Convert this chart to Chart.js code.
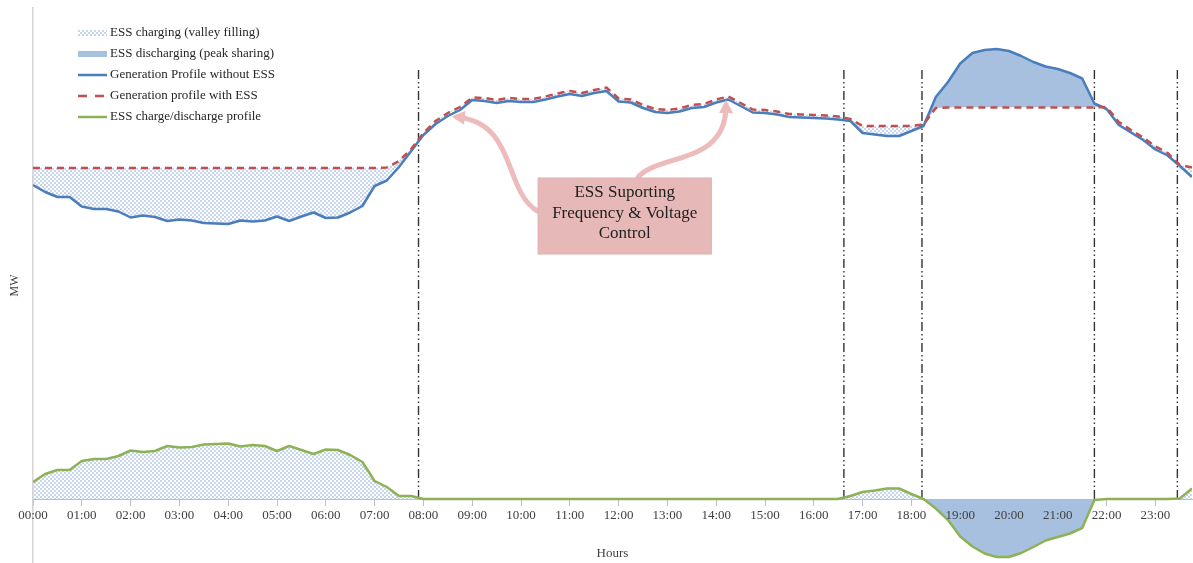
<!DOCTYPE html>
<html>
<head>
<meta charset="utf-8">
<title>ESS generation profile</title>
<script src="https://cdn.jsdelivr.net/npm/chart.js@4.4.0/dist/chart.umd.min.js"></script>
<style>
  html, body { margin: 0; padding: 0; background: #fff; }
  #wrap { width: 1193px; height: 563px; position: relative; }
</style>
</head>
<body>
<div id="wrap"><canvas id="chart"></canvas></div>
<script>
// one point every 15 minutes, 00:00 .. 23:45
const stepMinutes = 15;

const hourLabels = ['00:00', '01:00', '02:00', '03:00', '04:00', '05:00', '06:00', '07:00',
    '08:00', '09:00', '10:00', '11:00', '12:00', '13:00', '14:00', '15:00',
    '16:00', '17:00', '18:00', '19:00', '20:00', '21:00', '22:00', '23:00'];

const withoutEss = [
    314, 307, 302, 302, 292.5, 290, 290, 287.5, 281.5, 283.5, 282, 278,
    279.5, 278.5, 276, 275.5, 275, 278.5, 277.5, 278.5, 282.5, 278, 282.5, 286.5,
    281, 281.5, 286.5, 293, 313, 318.5, 332, 348, 364, 375, 383, 389,
    399, 398, 396, 398, 397, 397, 399.5, 402.5, 405, 403, 406, 408,
    397.5, 396.5, 391, 387, 386, 387.5, 391, 392, 396.5, 399.5, 393, 386.5,
    386, 384.5, 382, 381.5, 381, 380.5, 379.5, 378, 366, 364.5, 363, 363,
    368, 373, 402, 417, 435.5, 446, 449, 450, 448, 443, 437, 432.5,
    430, 426, 420.5, 395.5, 390, 374, 366.5, 359, 349.5, 343.5, 333, 322
];

const withEss = [
    331, 331, 331, 331, 331, 331, 331, 331, 331, 331, 331, 331,
    331, 331, 331, 331, 331, 331, 331, 331, 331, 331, 331, 331,
    331, 331, 331, 331, 331, 331.5, 338, 350, 366, 378, 386, 392,
    401.5, 401, 399, 401, 400, 400, 402.5, 405.5, 408, 406, 409, 411.5,
    400.5, 399.5, 394, 390, 389, 390.5, 394, 395, 399.5, 402.5, 396, 389.5,
    389, 387.5, 385, 384.5, 384, 383.5, 382.5, 380, 373, 373, 373, 373,
    373, 374.5, 391, 391.5, 391.5, 391.5, 391.5, 391.5, 391.5, 391.5, 391.5, 391.5,
    391.5, 391.5, 391.5, 391.5, 392, 377, 369, 361.5, 352.5, 346, 334, 331.5
];

const essProfile = [
    17, 25, 29, 29, 38, 40, 40, 43, 48.5, 47, 48, 53,
    51.5, 52, 54.5, 55, 55.5, 52.5, 54, 53, 48, 53, 49, 45,
    49.5, 49, 44, 37, 18, 12, 3, 3, 0, 0, 0, 0,
    0, 0, 0, 0, 0, 0, 0, 0, 0, 0, 0, 0,
    0, 0, 0, 0, 0, 0, 0, 0, 0, 0, 0, 0,
    0, 0, 0, 0, 0, 0, 0, 3, 7, 8.5, 10.5, 10.5,
    5, 0, -9.5, -21, -37.5, -47.5, -54.5, -58, -58, -54, -48, -41.5,
    -38, -34.5, -29, -1, 0, 0, 0, 0, 0, 0, 0.5, 10.5
];

// dash-dot separators, minutes after midnight
const eventMinutes = [474, 997, 1093, 1305, 1407];
const eventTop = 429;

// annotation, in minutes / MW
const noteBox = { from: 621, to: 834, top: 321, bottom: 245 };
const noteLines = ['ESS Suporting', 'Frequency & Voltage', 'Control'];
const noteLineValues = [306, 285, 265];
const noteArrows = [
    [[620, 288], [578, 309], [595, 376], [521, 382]],
    [[744, 322], [771, 346], [853, 334], [852, 394]]
];

const legendItems = [
    { text: 'ESS charging (valley filling)', kind: 'dots' },
    { text: 'ESS discharging (peak sharing)', kind: 'solid' },
    { text: 'Generation Profile without ESS', kind: 'line', color: '#4a7dbb' },
    { text: 'Generation profile with ESS', kind: 'dash', color: '#c0504d' },
    { text: 'ESS charge/discharge profile', kind: 'line', color: '#8db255' }
];

const serif = '"Liberation Serif", "Times New Roman", serif';

function makeDots() {
    const c = document.createElement('canvas');
    c.width = 4;
    c.height = 4;
    const g = c.getContext('2d');
    g.fillStyle = '#c6d6ee';
    g.fillRect(0, 0, 2, 2);
    g.fillRect(2, 2, 2, 2);
    return g.createPattern(c, 'repeat');
}

const chargeFill = makeDots();
const dischargeFill = '#a8c0df';

function toPoints(values) {
    return values.map((v, i) => ({ x: i * stepMinutes, y: v }));
}

const eventLines = {
    id: 'eventLines',
    beforeDatasetsDraw(chart) {
        const { ctx, scales } = chart;
        ctx.save();
        ctx.strokeStyle = '#333333';
        ctx.lineWidth = 1.4;
        ctx.setLineDash([9, 3, 1.5, 3, 1.5, 3]);
        eventMinutes.forEach(m => {
            const x = scales.x.getPixelForValue(m);
            ctx.beginPath();
            ctx.moveTo(x, scales.y.getPixelForValue(eventTop));
            ctx.lineTo(x, scales.y.getPixelForValue(0));
            ctx.stroke();
        });
        ctx.restore();
    }
};

const overlay = {
    id: 'overlay',
    afterDraw(chart) {
        const { ctx, scales, chartArea } = chart;
        const px = m => scales.x.getPixelForValue(m);
        const py = v => scales.y.getPixelForValue(v);
        ctx.save();

        // arrows behind the note
        ctx.strokeStyle = '#ecbcbc';
        ctx.fillStyle = '#ecbcbc';
        ctx.lineWidth = 5;
        ctx.lineCap = 'round';
        noteArrows.forEach(a => {
            const p = a.map(pt => [px(pt[0]), py(pt[1])]);
            ctx.beginPath();
            ctx.moveTo(p[0][0], p[0][1]);
            ctx.bezierCurveTo(p[1][0], p[1][1], p[2][0], p[2][1], p[3][0], p[3][1]);
            ctx.stroke();
            const ang = Math.atan2(p[3][1] - p[2][1], p[3][0] - p[2][0]);
            const tipX = p[3][0] + Math.cos(ang) * 5;
            const tipY = p[3][1] + Math.sin(ang) * 5;
            ctx.beginPath();
            ctx.moveTo(tipX, tipY);
            ctx.lineTo(tipX - Math.cos(ang) * 13 + Math.sin(ang) * 7, tipY - Math.sin(ang) * 13 - Math.cos(ang) * 7);
            ctx.lineTo(tipX - Math.cos(ang) * 13 - Math.sin(ang) * 7, tipY - Math.sin(ang) * 13 + Math.cos(ang) * 7);
            ctx.closePath();
            ctx.fill();
        });

        // note box
        const bx = px(noteBox.from), by = py(noteBox.top);
        ctx.fillStyle = '#e6b9b8';
        ctx.fillRect(bx, by, px(noteBox.to) - bx, py(noteBox.bottom) - by);
        ctx.strokeStyle = '#ddb0af';
        ctx.lineWidth = 1;
        ctx.strokeRect(bx, by, px(noteBox.to) - bx, py(noteBox.bottom) - by);
        ctx.fillStyle = '#1e1e1e';
        ctx.font = '17px ' + serif;
        ctx.textAlign = 'center';
        ctx.textBaseline = 'middle';
        const cx = (px(noteBox.from) + px(noteBox.to)) / 2;
        noteLines.forEach((t, i) => ctx.fillText(t, cx, py(noteLineValues[i])));

        // legend
        const x0 = chartArea.left + 45;
        const tx = chartArea.left + 77;
        ctx.font = '13px ' + serif;
        ctx.textAlign = 'left';
        legendItems.forEach((item, i) => {
            const y = chartArea.top + 25 + i * 21;
            if (item.kind === 'dots' || item.kind === 'solid') {
                ctx.fillStyle = item.kind === 'dots' ? chargeFill : dischargeFill;
                ctx.fillRect(x0, y - 3, 29, 6);
            } else {
                ctx.strokeStyle = item.color;
                ctx.lineWidth = 2.5;
                ctx.lineCap = 'butt';
                ctx.setLineDash(item.kind === 'dash' ? [9, 8] : []);
                ctx.beginPath();
                ctx.moveTo(x0, y);
                ctx.lineTo(x0 + 29, y);
                ctx.stroke();
                ctx.setLineDash([]);
            }
            ctx.fillStyle = '#262626';
            ctx.fillText(item.text, tx, y);
        });
        ctx.restore();
    }
};

new Chart(document.getElementById('chart'), {
    type: 'line',
    data: {
        datasets: [
            {
                label: 'Generation profile with ESS',
                data: toPoints(withEss),
                borderColor: '#c0504d',
                borderWidth: 2.5,
                borderDash: [7, 5],
                fill: false,
                order: 0
            },
            {
                label: 'Generation Profile without ESS',
                data: toPoints(withoutEss),
                borderColor: '#4a7dbb',
                borderWidth: 2.5,
                fill: { target: 0, above: dischargeFill, below: chargeFill },
                order: 1
            },
            {
                label: 'ESS charge/discharge profile',
                data: toPoints(essProfile),
                borderColor: '#8db255',
                borderWidth: 2.5,
                fill: { target: 'origin', above: chargeFill, below: dischargeFill },
                order: 2
            }
        ]
    },
    options: {
        responsive: true,
        maintainAspectRatio: false,
        animation: false,
        devicePixelRatio: 1,
        layout: { padding: { left: 4, right: 1, top: 8, bottom: 0 } },
        elements: {
            point: { radius: 0 },
            line: { tension: 0, borderJoinStyle: 'round' }
        },
        plugins: {
            legend: { display: false },
            tooltip: { enabled: false },
            filler: { drawTime: 'beforeDatasetsDraw' }
        },
        scales: {
            x: {
                type: 'linear',
                position: { y: 0 },
                min: 0,
                max: 95 * stepMinutes,
                grid: { display: true, drawOnChartArea: false, drawTicks: true, tickLength: 6, color: '#bfbfbf' },
                border: { display: true, color: '#bfbfbf', width: 1 },
                ticks: {
                    z: 1,
                    stepSize: 60,
                    includeBounds: false,
                    autoSkip: false,
                    maxRotation: 0,
                    padding: 3,
                    color: '#404040',
                    font: { family: serif, size: 13 },
                    callback: v => hourLabels[v / 60]
                },
                title: {
                    display: true,
                    text: 'Hours',
                    color: '#404040',
                    font: { family: serif, size: 13 },
                    padding: { top: 19.6, bottom: 0 }
                }
            },
            y: {
                type: 'linear',
                min: -64,
                max: 491,
                grid: { display: false, drawTicks: false },
                border: { display: true, color: '#d4d4d4', width: 1.5 },
                ticks: { display: false },
                title: {
                    display: true,
                    text: 'MW',
                    color: '#404040',
                    font: { family: serif, size: 12 },
                    padding: { top: 4, bottom: 10.6 }
                }
            }
        }
    },
    plugins: [eventLines, overlay]
});
</script>
</body>
</html>
